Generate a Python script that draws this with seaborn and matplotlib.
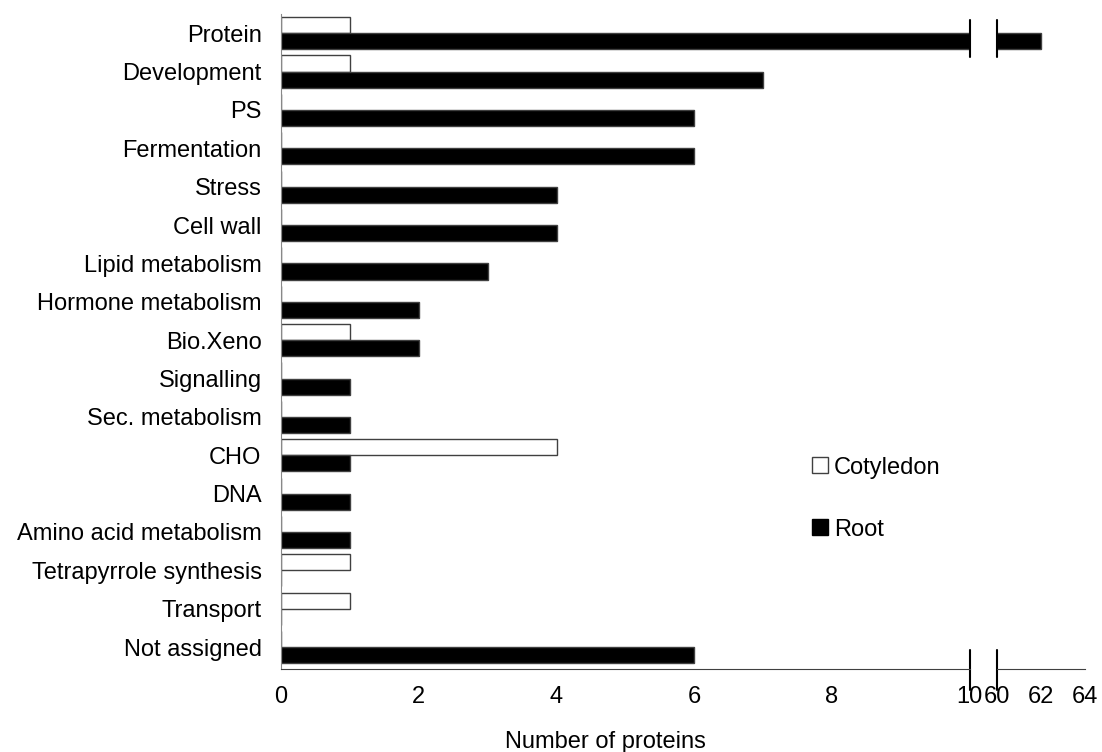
import seaborn as sns
import pandas as pd
import matplotlib.pyplot as plt
from matplotlib.patches import Patch

categories = ['Protein', 'Development', 'PS', 'Fermentation', 'Stress', 'Cell wall',
              'Lipid metabolism', 'Hormone metabolism', 'Bio.Xeno', 'Signalling',
              'Sec. metabolism', 'CHO', 'DNA', 'Amino acid metabolism',
              'Tetrapyrrole synthesis', 'Transport', 'Not assigned']
cotyledon = [1, 1, 0, 0, 0, 0, 0, 0, 1, 0, 0, 4, 0, 0, 1, 1, 0]
root = [62, 7, 6, 6, 4, 4, 3, 2, 2, 1, 1, 1, 1, 1, 0, 0, 6]

df = pd.DataFrame({'category': categories * 2,
                   'count': cotyledon + root,
                   'tissue': ['Cotyledon'] * len(categories) + ['Root'] * len(categories)})

sns.set_style('white')
plt.rcParams['font.family'] = ['Liberation Sans', 'DejaVu Sans']
plt.rcParams['font.size'] = 17
plt.rcParams['text.color'] = 'black'
plt.rcParams['xtick.color'] = 'black'
plt.rcParams['ytick.color'] = 'black'

fig = plt.figure(figsize=(11.02, 7.52), dpi=100)
bottom, height = 0.1104, 0.871
ax1 = fig.add_axes([0.255, bottom, 0.625, height])
ax2 = fig.add_axes([0.9047, bottom, 0.0799, height])

pal = {'Cotyledon': 'white', 'Root': 'black'}
for ax in (ax1, ax2):
    sns.barplot(data=df, y='category', x='count', hue='tissue', order=categories,
                palette=pal, orient='h', width=0.84, edgecolor='#404040',
                linewidth=1, legend=False, ax=ax)
    ax.set_ylim(16.57, -0.5)
    ax.set_xlabel('')
    ax.set_ylabel('')
    ax.tick_params(axis='both', length=0, labelsize=17)
    for s in ['top', 'right']:
        ax.spines[s].set_visible(False)
    ax.spines['bottom'].set_color('#404040')

ax1.set_xlim(0, 10)
ax1.set_xticks([0, 2, 4, 6, 8, 10])
ax1.tick_params(axis='y', pad=14)
ax1.tick_params(axis='x', pad=12)
ax1.spines['left'].set_color('#888888')

ax2.set_xlim(60, 64)
ax2.set_xticks([60, 62, 64])
ax2.set_yticks([])
ax2.spines['left'].set_visible(False)
ax2.tick_params(axis='x', pad=12)

# break marks
for ax, xv in ((ax1, 10), (ax2, 60)):
    ax.axvline(xv, ymin=-0.032, ymax=0.029, color='black', lw=1.5, clip_on=False)
    ax.axvline(xv, ymin=0.934, ymax=0.991, color='black', lw=1.5, clip_on=False)

fig.text(0.549, 0.0053, 'Number of proteins', ha='center', va='baseline', fontsize=17)

handles = [Patch(facecolor='white', edgecolor='#404040', label='Cotyledon'),
           Patch(facecolor='black', edgecolor='black', label='Root')]
fig.legend(handles=handles, loc='center left', bbox_to_anchor=(0.718, 0.337), frameon=False,
           handlelength=0.65, handleheight=0.65, handletextpad=0.25, labelspacing=1.7,
           fontsize=17)

fig.savefig('out.png', dpi=100)
